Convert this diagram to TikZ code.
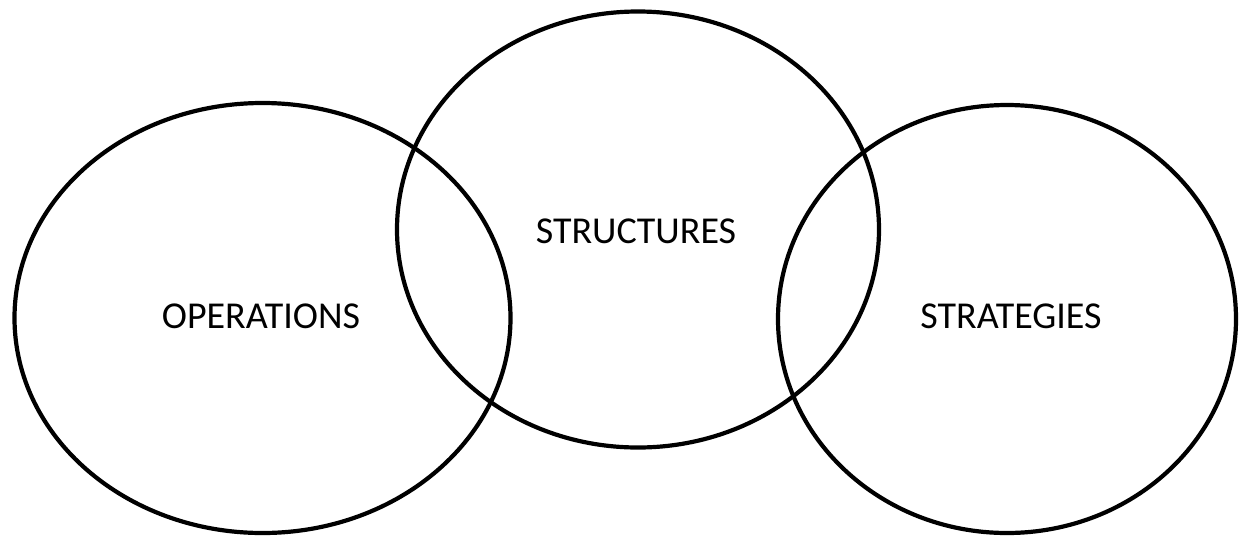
\documentclass[tikz,border=0pt]{standalone}
\usepackage{fontspec}
\setmainfont{Carlito}
\usetikzlibrary{shapes.geometric}
\begin{document}
\begin{tikzpicture}[x=1pt,y=-1pt,
  venn/.style={draw=black, line width=4.2pt, ellipse, inner sep=0pt, outer sep=0pt},
  lbl/.style={font=\fontsize{38}{40}\selectfont, inner sep=0pt, text=black}]
\useasboundingbox (0,0) rectangle (1239,539);
\node[venn, minimum width=496pt, minimum height=430pt] (ops) at (262.5,318) {};
\node[venn, minimum width=482pt, minimum height=436pt] (str) at (638,229.5) {};
\node[venn, minimum width=458pt, minimum height=428pt] (stg) at (1007,319) {};
\node[lbl, anchor=base] (opsl) at (261,328) {OPERATIONS};
\node[lbl, anchor=base] (strl) at (636,243) {STRUCTURES};
\node[lbl, anchor=base] (stgl) at (1011,328) {STRATEGIES};
\end{tikzpicture}
\end{document}
